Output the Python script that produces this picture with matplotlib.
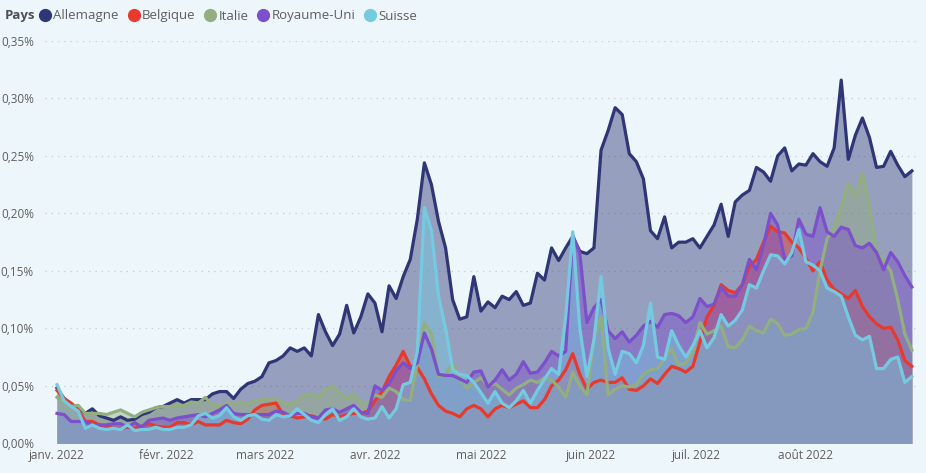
import numpy as np
import pandas as pd
import matplotlib
matplotlib.use('Agg')
import matplotlib.pyplot as plt
from matplotlib.lines import Line2D
from matplotlib.ticker import FixedLocator, FuncFormatter

# one reading every 2 days, 1 jan -> 31 aug 2022, values in %
dates = pd.date_range('2022-01-01', '2022-08-31', freq='2D')

allemagne = [0.048, 0.039, 0.034, 0.031, 0.026, 0.030, 0.024, 0.022, 0.020, 0.023,
             0.020, 0.021, 0.025, 0.027, 0.031, 0.032, 0.035, 0.038, 0.035, 0.038,
             0.038, 0.038, 0.043, 0.045, 0.045, 0.039, 0.047, 0.052, 0.054, 0.058,
             0.070, 0.072, 0.076, 0.083, 0.080, 0.083, 0.076, 0.112, 0.097, 0.085,
             0.095, 0.120, 0.096, 0.110, 0.130, 0.122, 0.097, 0.137, 0.126, 0.145,
             0.160, 0.195, 0.244, 0.225, 0.193, 0.170, 0.125, 0.108, 0.110, 0.145,
             0.115, 0.123, 0.118, 0.128, 0.125, 0.132, 0.120, 0.122, 0.148, 0.142,
             0.170, 0.159, 0.170, 0.180, 0.167, 0.165, 0.170, 0.255, 0.272, 0.292,
             0.286, 0.252, 0.245, 0.230, 0.185, 0.178, 0.197, 0.170, 0.175, 0.175,
             0.178, 0.170, 0.180, 0.190, 0.208, 0.180, 0.210, 0.216, 0.220, 0.240,
             0.236, 0.228, 0.250, 0.257, 0.237, 0.243, 0.242, 0.252, 0.245, 0.241,
             0.257, 0.316, 0.247, 0.268, 0.283, 0.266, 0.240, 0.241, 0.254, 0.242,
             0.232, 0.237]
belgique = [0.046, 0.039, 0.035, 0.029, 0.019, 0.019, 0.016, 0.014, 0.013, 0.013,
            0.014, 0.013, 0.015, 0.017, 0.015, 0.014, 0.014, 0.018, 0.018, 0.016,
            0.019, 0.016, 0.016, 0.016, 0.020, 0.018, 0.017, 0.021, 0.029, 0.033,
            0.034, 0.035, 0.025, 0.024, 0.022, 0.023, 0.024, 0.022, 0.021, 0.025,
            0.023, 0.025, 0.026, 0.026, 0.028, 0.037, 0.045, 0.058, 0.068, 0.080,
            0.067, 0.066, 0.056, 0.043, 0.033, 0.028, 0.026, 0.023, 0.030, 0.033,
            0.030, 0.023, 0.030, 0.033, 0.031, 0.034, 0.037, 0.031, 0.031, 0.038,
            0.050, 0.055, 0.064, 0.078, 0.060, 0.047, 0.053, 0.055, 0.053, 0.053,
            0.057, 0.047, 0.046, 0.050, 0.056, 0.052, 0.060, 0.067, 0.065, 0.062,
            0.067, 0.088, 0.110, 0.120, 0.138, 0.133, 0.131, 0.138, 0.154, 0.160,
            0.175, 0.189, 0.184, 0.183, 0.175, 0.170, 0.161, 0.150, 0.158, 0.142,
            0.134, 0.130, 0.126, 0.133, 0.119, 0.110, 0.104, 0.100, 0.101, 0.090,
            0.072, 0.067]
italie = [0.040, 0.035, 0.032, 0.033, 0.026, 0.026, 0.026, 0.025, 0.027, 0.029,
          0.026, 0.023, 0.027, 0.029, 0.031, 0.032, 0.032, 0.033, 0.033, 0.036,
          0.035, 0.040, 0.033, 0.033, 0.035, 0.035, 0.036, 0.034, 0.037, 0.038,
          0.038, 0.039, 0.035, 0.034, 0.037, 0.042, 0.043, 0.040, 0.047, 0.050,
          0.044, 0.039, 0.043, 0.035, 0.035, 0.042, 0.040, 0.048, 0.045, 0.038,
          0.037, 0.070, 0.105, 0.095, 0.058, 0.060, 0.070, 0.056, 0.048, 0.053,
          0.057, 0.050, 0.052, 0.047, 0.042, 0.048, 0.051, 0.055, 0.053, 0.057,
          0.055, 0.049, 0.040, 0.062, 0.050, 0.042, 0.090, 0.110, 0.042, 0.047,
          0.050, 0.049, 0.051, 0.060, 0.064, 0.065, 0.074, 0.082, 0.068, 0.070,
          0.080, 0.105, 0.095, 0.098, 0.102, 0.084, 0.083, 0.090, 0.102, 0.098,
          0.096, 0.108, 0.104, 0.094, 0.095, 0.099, 0.100, 0.114, 0.150, 0.178,
          0.188, 0.205, 0.226, 0.215, 0.235, 0.205, 0.168, 0.159, 0.150, 0.125,
          0.095, 0.081]
royaume_uni = [0.026, 0.025, 0.019, 0.019, 0.019, 0.016, 0.016, 0.016, 0.017, 0.017,
               0.014, 0.018, 0.014, 0.020, 0.021, 0.022, 0.020, 0.022, 0.023, 0.024,
               0.025, 0.023, 0.026, 0.029, 0.033, 0.026, 0.025, 0.025, 0.025, 0.025,
               0.025, 0.028, 0.027, 0.024, 0.026, 0.026, 0.023, 0.022, 0.029, 0.030,
               0.027, 0.030, 0.033, 0.027, 0.026, 0.050, 0.046, 0.052, 0.063, 0.070,
               0.065, 0.070, 0.096, 0.082, 0.060, 0.059, 0.059, 0.056, 0.053, 0.062,
               0.063, 0.049, 0.055, 0.064, 0.055, 0.060, 0.071, 0.061, 0.062, 0.070,
               0.080, 0.076, 0.080, 0.181, 0.165, 0.105, 0.118, 0.125, 0.098, 0.091,
               0.097, 0.088, 0.094, 0.102, 0.106, 0.101, 0.112, 0.113, 0.111, 0.105,
               0.110, 0.126, 0.119, 0.121, 0.136, 0.128, 0.128, 0.138, 0.160, 0.151,
               0.172, 0.200, 0.190, 0.160, 0.163, 0.195, 0.182, 0.180, 0.205, 0.184,
               0.180, 0.188, 0.186, 0.172, 0.170, 0.174, 0.166, 0.151, 0.166, 0.158,
               0.146, 0.136]
suisse = [0.051, 0.037, 0.032, 0.028, 0.013, 0.016, 0.013, 0.012, 0.013, 0.012,
          0.016, 0.011, 0.012, 0.012, 0.014, 0.012, 0.012, 0.014, 0.014, 0.016,
          0.024, 0.026, 0.022, 0.024, 0.031, 0.023, 0.020, 0.024, 0.025, 0.021,
          0.020, 0.025, 0.023, 0.024, 0.030, 0.025, 0.020, 0.018, 0.025, 0.030,
          0.020, 0.023, 0.030, 0.023, 0.021, 0.022, 0.032, 0.022, 0.030, 0.051,
          0.053, 0.080, 0.205, 0.185, 0.128, 0.100, 0.064, 0.060, 0.059, 0.053,
          0.044, 0.035, 0.045, 0.035, 0.031, 0.037, 0.046, 0.035, 0.046, 0.056,
          0.065, 0.060, 0.110, 0.184, 0.100, 0.058, 0.090, 0.145, 0.083, 0.060,
          0.080, 0.078, 0.070, 0.085, 0.122, 0.075, 0.073, 0.098, 0.085, 0.075,
          0.085, 0.098, 0.083, 0.092, 0.112, 0.102, 0.107, 0.116, 0.138, 0.135,
          0.150, 0.164, 0.163, 0.156, 0.166, 0.186, 0.158, 0.155, 0.150, 0.135,
          0.132, 0.128, 0.110, 0.094, 0.090, 0.093, 0.065, 0.065, 0.073, 0.075,
          0.053, 0.058]

pays = ['Allemagne', 'Belgique', 'Italie', 'Royaume-Uni', 'Suisse']
series = [allemagne, belgique, italie, royaume_uni, suisse]
colors = ['#2f3575', '#e83a2c', '#93ae80', '#7c4fcb', '#74cbe1']

month_starts = pd.date_range('2022-01-01', '2022-08-01', freq='MS')
month_labels = ['janv. 2022', 'févr. 2022', 'mars 2022', 'avr. 2022',
                'mai 2022', 'juin 2022', 'juil. 2022', 'août 2022']

bg = '#ecf6fb'
txt = '#605e5c'
plt.rcParams['font.family'] = ['Open Sans', 'DejaVu Sans']

fig = plt.figure(figsize=(9.26, 4.73), dpi=100, facecolor=bg)
ax = fig.add_axes([45/926, 1 - 443.3/473, 875/926, (443.3 - 41)/473])
ax.set_facecolor(bg)

for vals, c in zip(series, colors):
    ax.fill_between(dates, 0, vals, color=c, alpha=0.45, linewidth=0)
for vals, c in zip(series, colors):
    ax.plot(dates, vals, color=c, linewidth=2.3, solid_joinstyle='round')

x0 = dates[0] - pd.Timedelta(days=3.4)
x1 = dates[-1] + pd.Timedelta(days=2.3)
ax.set_xlim(x0, x1)
ax.set_ylim(0, 0.35)

ax.yaxis.set_major_locator(FixedLocator([0, 0.05, 0.10, 0.15, 0.20, 0.25, 0.30, 0.35]))
ax.yaxis.set_major_formatter(FuncFormatter(lambda v, p: ('%.2f%%' % v).replace('.', ',')))
ax.set_xticks(month_starts)
ax.set_xticklabels(month_labels)
ax.grid(axis='y', color='#c8cdd0', linestyle=(0, (1, 4)), linewidth=0.9)
ax.set_axisbelow(True)
for s in ax.spines.values():
    s.set_visible(False)
ax.tick_params(length=0, colors=txt, labelsize=8.5)
ax.tick_params(axis='y', pad=8)
ax.tick_params(axis='x', pad=4)

# legend
fig.text(5/926, 1 - 16/473, 'Pays', fontsize=9.5, fontweight='bold', color='#505050', va='center')
handles = [Line2D([], [], marker='o', linestyle='none', markersize=8.5, color=c) for c in colors]
fig.legend(handles, pays, loc='center left', bbox_to_anchor=(37/926, 1 - 16/473),
           ncol=5, frameon=False, fontsize=9.5, labelcolor=txt, handletextpad=0.05,
           columnspacing=0.5, handlelength=1.2, borderaxespad=0, borderpad=0)

plt.savefig('out.png', dpi=100, facecolor=bg)
